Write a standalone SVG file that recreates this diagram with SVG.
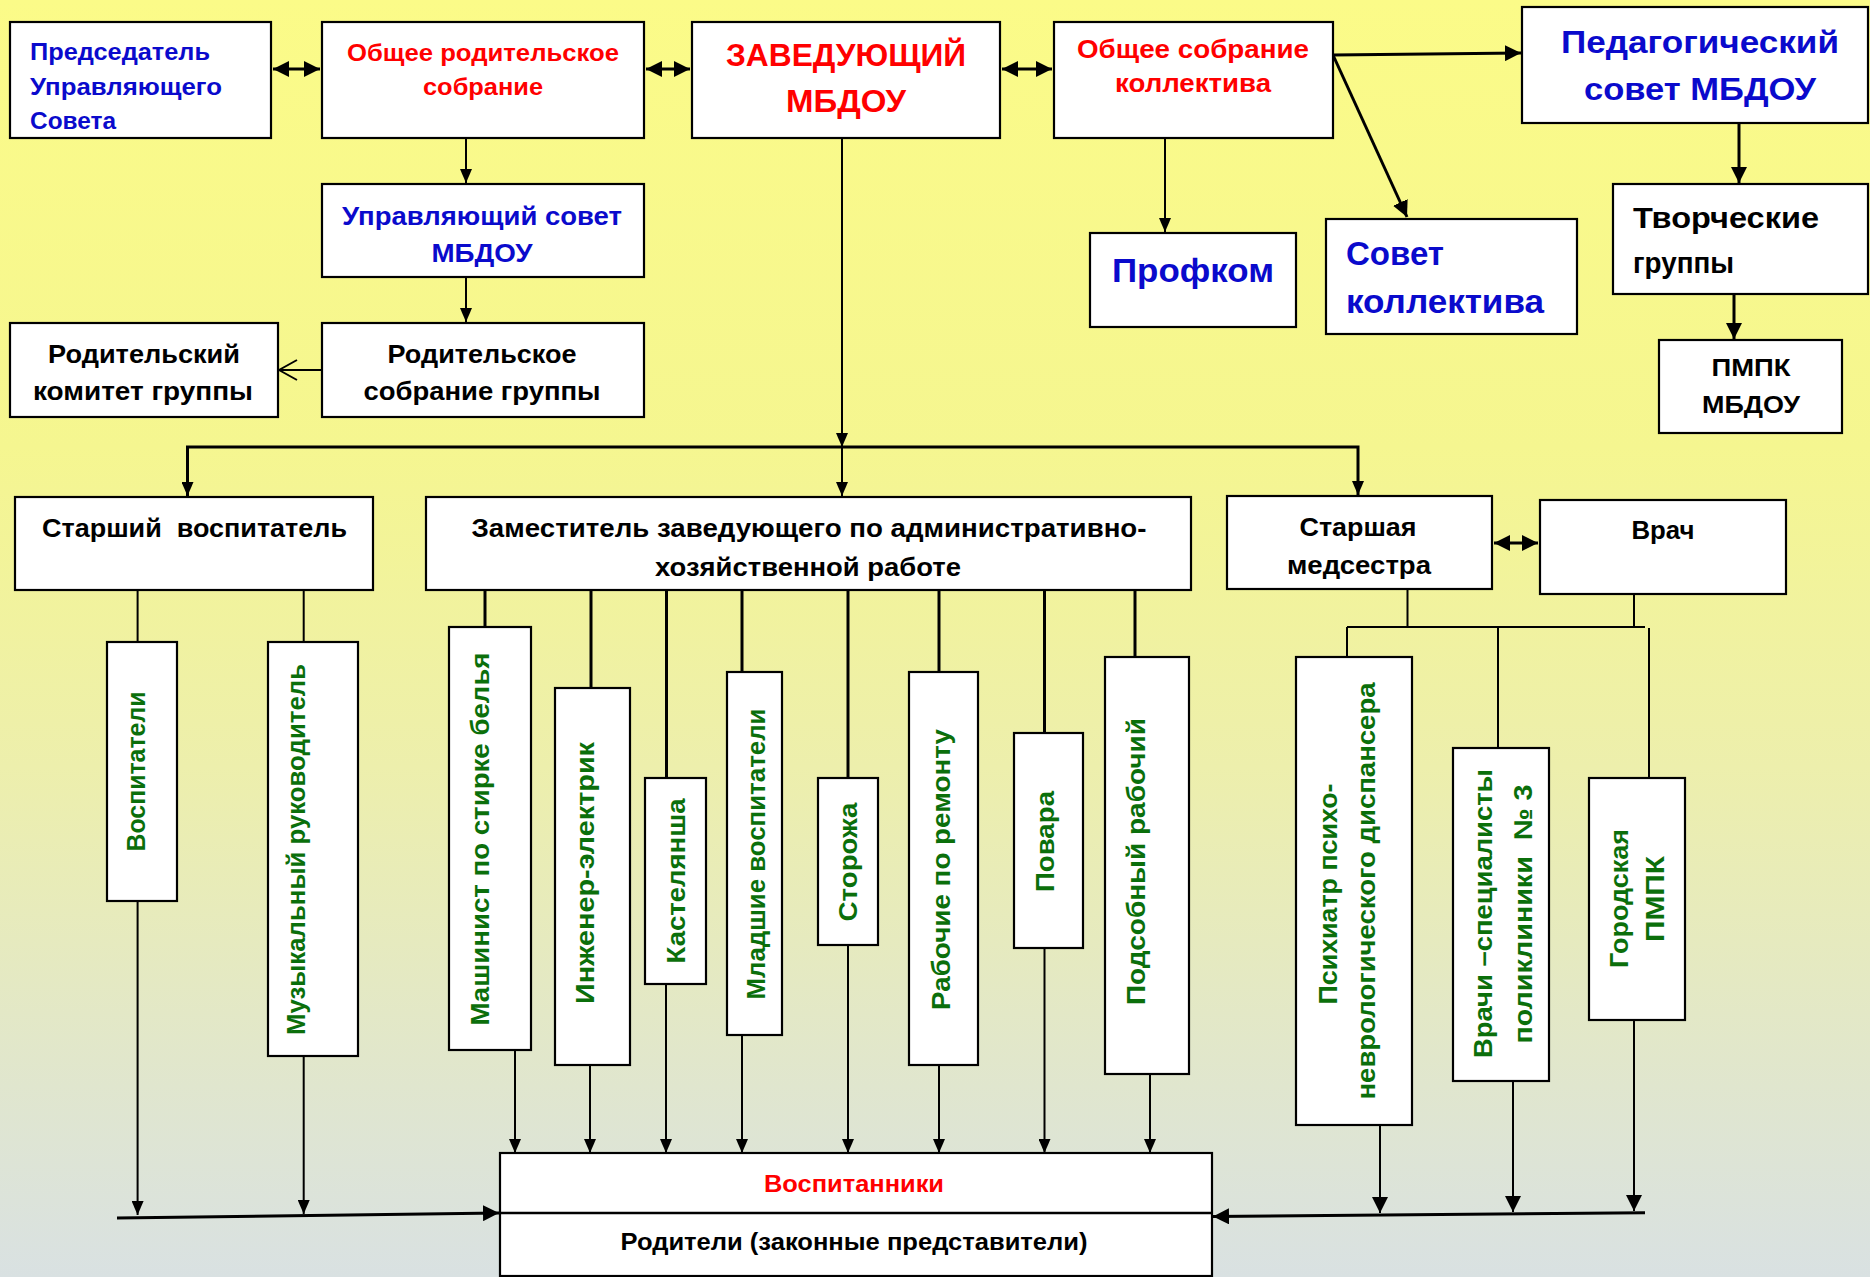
<svg xmlns="http://www.w3.org/2000/svg" width="1870" height="1277" viewBox="0 0 1870 1277">
<defs>
<linearGradient id="bg" x1="0" y1="0" x2="0" y2="1">
<stop offset="0" stop-color="#FBFB88"/>
<stop offset="0.35" stop-color="#F5F690"/>
<stop offset="0.6" stop-color="#EDEFAC"/>
<stop offset="0.85" stop-color="#E0E6CE"/>
<stop offset="1" stop-color="#D9E1E2"/>
</linearGradient>
<marker id="ah" markerUnits="userSpaceOnUse" viewBox="0 0 14 12" refX="14" refY="6" markerWidth="14" markerHeight="12" orient="auto-start-reverse">
<path d="M0,0 L14,6 L0,12 z" fill="#000"/>
</marker>
<marker id="ahb" markerUnits="userSpaceOnUse" viewBox="0 0 16 16" refX="16" refY="8" markerWidth="16" markerHeight="16" orient="auto-start-reverse">
<path d="M0,0 L16,8 L0,16 z" fill="#000"/>
</marker>
<marker id="ao" markerUnits="userSpaceOnUse" viewBox="0 0 20 22" refX="19" refY="11" markerWidth="20" markerHeight="22" orient="auto">
<path d="M1,1 L19,11 L1,21" fill="none" stroke="#000" stroke-width="2"/>
</marker>
<style>
.box{fill:#fff;stroke:#000;stroke-width:2.2}
.t{font-family:"Liberation Sans",Arial,sans-serif;font-weight:bold}
.c{text-anchor:middle}
.blue{fill:#0A0ACC}
.red{fill:#FF0000}
.blk{fill:#000}
.v{font-family:"Liberation Sans",Arial,sans-serif;font-weight:bold;fill:#0B6F0B;text-anchor:middle;dominant-baseline:central;font-size:26px}
.ln{stroke:#000;stroke-width:2;fill:none}
.lt{stroke:#000;stroke-width:3;fill:none}
</style>
</defs>
<rect x="0" y="0" width="1870" height="1277" fill="url(#bg)"/>

<g id="connectors">
<line class="lt" x1="273" y1="69" x2="320" y2="69" marker-start="url(#ahb)" marker-end="url(#ahb)"/>
<line class="lt" x1="646" y1="69" x2="690" y2="69" marker-start="url(#ahb)" marker-end="url(#ahb)"/>
<line class="lt" x1="1002" y1="69" x2="1052" y2="69" marker-start="url(#ahb)" marker-end="url(#ahb)"/>
<line class="lt" x1="1494" y1="543" x2="1538" y2="543" marker-start="url(#ahb)" marker-end="url(#ahb)"/>
<line class="lt" x1="1333" y1="55" x2="1521" y2="53" marker-end="url(#ahb)"/>
<line class="lt" x1="1333" y1="55" x2="1407" y2="217" marker-end="url(#ahb)"/>
<line class="ln" x1="1165" y1="138" x2="1165" y2="232" marker-end="url(#ah)"/>
<line class="ln" x1="466" y1="138" x2="466" y2="183" marker-end="url(#ah)"/>
<line class="ln" x1="466" y1="277" x2="466" y2="322" marker-end="url(#ah)"/>
<line class="ln" x1="322" y1="370" x2="279" y2="370" marker-end="url(#ao)"/>
<line class="lt" x1="1739" y1="123" x2="1739" y2="183" marker-end="url(#ahb)"/>
<line class="lt" x1="1734" y1="294" x2="1734" y2="339" marker-end="url(#ahb)"/>
<line class="ln" x1="842" y1="138" x2="842" y2="447" marker-end="url(#ah)"/>
<polyline class="lt" points="187.5,497 187.5,447 1358,447 1358,496" stroke-width="2.5"/>
<line class="ln" x1="187.5" y1="447" x2="187.5" y2="496" marker-end="url(#ah)"/>
<line class="ln" x1="842" y1="447" x2="842" y2="496" marker-end="url(#ah)"/>
<line class="ln" x1="1358" y1="447" x2="1358" y2="495" marker-end="url(#ah)"/>
<line class="ln" x1="137.6" y1="590" x2="137.6" y2="642"/>
<line class="ln" x1="303.7" y1="590" x2="303.7" y2="642"/>
<line class="lt" x1="485" y1="590" x2="485" y2="627"/>
<line class="lt" x1="591" y1="590" x2="591" y2="688"/>
<line class="lt" x1="666.5" y1="590" x2="666.5" y2="778"/>
<line class="lt" x1="742" y1="590" x2="742" y2="672"/>
<line class="lt" x1="848" y1="590" x2="848" y2="778"/>
<line class="lt" x1="939" y1="590" x2="939" y2="672"/>
<line class="lt" x1="1044.5" y1="590" x2="1044.5" y2="733"/>
<line class="lt" x1="1135" y1="590" x2="1135" y2="657"/>
<line class="ln" x1="1407.5" y1="589" x2="1407.5" y2="627"/>
<line class="ln" x1="1634" y1="594" x2="1634" y2="627"/>
<line class="ln" x1="1347" y1="627" x2="1645" y2="627"/>
<line class="ln" x1="1347" y1="627" x2="1347" y2="657"/>
<line class="ln" x1="1498" y1="627" x2="1498" y2="748"/>
<line class="ln" x1="1649" y1="628" x2="1649" y2="778"/>
<line class="ln" x1="137.6" y1="901" x2="137.6" y2="1215" marker-end="url(#ah)"/>
<line class="ln" x1="303.7" y1="1056" x2="303.7" y2="1214" marker-end="url(#ah)"/>
<line class="ln" x1="515" y1="1050" x2="515" y2="1153" marker-end="url(#ah)"/>
<line class="ln" x1="590" y1="1065" x2="590" y2="1153" marker-end="url(#ah)"/>
<line class="ln" x1="666" y1="984" x2="666" y2="1153" marker-end="url(#ah)"/>
<line class="ln" x1="742" y1="1035" x2="742" y2="1153" marker-end="url(#ah)"/>
<line class="ln" x1="848" y1="945" x2="848" y2="1153" marker-end="url(#ah)"/>
<line class="ln" x1="939" y1="1065" x2="939" y2="1153" marker-end="url(#ah)"/>
<line class="ln" x1="1044.5" y1="948" x2="1044.5" y2="1153" marker-end="url(#ah)"/>
<line class="ln" x1="1150" y1="1074" x2="1150" y2="1153" marker-end="url(#ah)"/>
<line class="lt" x1="117" y1="1218" x2="499" y2="1213" marker-end="url(#ahb)"/>
<line class="lt" x1="1645" y1="1212.7" x2="1213" y2="1216.5" marker-end="url(#ahb)"/>
<line class="ln" x1="1380" y1="1125" x2="1380" y2="1213" marker-end="url(#ahb)"/>
<line class="ln" x1="1513" y1="1081" x2="1513" y2="1212" marker-end="url(#ahb)"/>
<line class="ln" x1="1634" y1="1020" x2="1634" y2="1211" marker-end="url(#ahb)"/>
</g>

<g id="n-predsedatel">
<rect class="box" x="10" y="22" width="261" height="116"/>
<text class="t blue" font-size="24" x="30" y="60" textLength="180" lengthAdjust="spacingAndGlyphs">Председатель</text>
<text class="t blue" font-size="24" x="30" y="95" textLength="192" lengthAdjust="spacingAndGlyphs">Управляющего</text>
<text class="t blue" font-size="24" x="30" y="129" textLength="86" lengthAdjust="spacingAndGlyphs">Совета</text>
</g>
<g id="n-obshee-rod">
<rect class="box" x="322" y="22" width="322" height="116"/>
<text class="t red c" font-size="24" x="483" y="61" textLength="272" lengthAdjust="spacingAndGlyphs">Общее родительское</text>
<text class="t red c" font-size="24" x="483" y="95" textLength="120" lengthAdjust="spacingAndGlyphs">собрание</text>
</g>
<g id="n-zaveduyushiy">
<rect class="box" x="692" y="22" width="308" height="116"/>
<text class="t red c" font-size="32" x="846" y="66" textLength="240" lengthAdjust="spacingAndGlyphs">ЗАВЕДУЮЩИЙ</text>
<text class="t red c" font-size="32" x="846" y="112" textLength="120" lengthAdjust="spacingAndGlyphs">МБДОУ</text>
</g>
<g id="n-obshee-kol">
<rect class="box" x="1054" y="22" width="279" height="116"/>
<text class="t red c" font-size="26" x="1193" y="58" textLength="232" lengthAdjust="spacingAndGlyphs">Общее собрание</text>
<text class="t red c" font-size="26" x="1193" y="92" textLength="156" lengthAdjust="spacingAndGlyphs">коллектива</text>
</g>
<g id="n-pedsovet">
<rect class="box" x="1522" y="7" width="346" height="116"/>
<text class="t blue c" font-size="32" x="1700" y="53" textLength="278" lengthAdjust="spacingAndGlyphs">Педагогический</text>
<text class="t blue c" font-size="32" x="1700" y="100" textLength="232" lengthAdjust="spacingAndGlyphs">совет МБДОУ</text>
</g>
<g id="n-upr-sovet">
<rect class="box" x="322" y="184" width="322" height="93"/>
<text class="t blue c" font-size="26" x="482" y="225" textLength="280" lengthAdjust="spacingAndGlyphs">Управляющий совет</text>
<text class="t blue c" font-size="26" x="482" y="262" textLength="101" lengthAdjust="spacingAndGlyphs">МБДОУ</text>
</g>
<g id="n-profkom">
<rect class="box" x="1090" y="233" width="206" height="94"/>
<text class="t blue c" font-size="34" x="1193" y="282" textLength="162" lengthAdjust="spacingAndGlyphs">Профком</text>
</g>
<g id="n-sovet-kol">
<rect class="box" x="1326" y="219" width="251" height="115"/>
<text class="t blue" font-size="33" x="1346" y="265" textLength="98" lengthAdjust="spacingAndGlyphs">Совет</text>
<text class="t blue" font-size="33" x="1346" y="313" textLength="198" lengthAdjust="spacingAndGlyphs">коллектива</text>
</g>
<g id="n-tvorch">
<rect class="box" x="1613" y="184" width="255" height="110"/>
<text class="t blk" font-size="30" x="1633" y="228" textLength="186" lengthAdjust="spacingAndGlyphs">Творческие</text>
<text class="t blk" font-size="30" x="1633" y="273" textLength="101" lengthAdjust="spacingAndGlyphs">группы</text>
</g>
<g id="n-pmpk">
<rect class="box" x="1659" y="340" width="183" height="93"/>
<text class="t blk c" font-size="24" x="1751" y="376" textLength="79" lengthAdjust="spacingAndGlyphs">ПМПК</text>
<text class="t blk c" font-size="24" x="1751" y="413" textLength="98" lengthAdjust="spacingAndGlyphs">МБДОУ</text>
</g>
<g id="n-rod-komitet">
<rect class="box" x="10" y="323" width="268" height="94"/>
<text class="t blk c" font-size="26" x="144" y="363" textLength="192" lengthAdjust="spacingAndGlyphs">Родительский</text>
<text class="t blk c" font-size="26" x="143" y="400" textLength="220" lengthAdjust="spacingAndGlyphs">комитет группы</text>
</g>
<g id="n-rod-sobranie">
<rect class="box" x="322" y="323" width="322" height="94"/>
<text class="t blk c" font-size="26" x="482" y="363" textLength="189" lengthAdjust="spacingAndGlyphs">Родительское</text>
<text class="t blk c" font-size="26" x="482" y="400" textLength="237" lengthAdjust="spacingAndGlyphs">собрание группы</text>
</g>
<g id="n-starshiy-vosp">
<rect class="box" x="15" y="497" width="358" height="93"/>
<text class="t blk c" font-size="26" x="194.5" y="537" textLength="305" lengthAdjust="spacingAndGlyphs" xml:space="preserve">Старший  воспитатель</text>
</g>
<g id="n-zamestitel">
<rect class="box" x="426" y="497" width="765" height="93"/>
<text class="t blk c" font-size="26" x="809" y="537" textLength="675" lengthAdjust="spacingAndGlyphs">Заместитель заведующего по административно-</text>
<text class="t blk c" font-size="26" x="808" y="576" textLength="306" lengthAdjust="spacingAndGlyphs">хозяйственной работе</text>
</g>
<g id="n-medsestra">
<rect class="box" x="1227" y="496" width="265" height="93"/>
<text class="t blk c" font-size="26" x="1358" y="535.5" textLength="117" lengthAdjust="spacingAndGlyphs">Старшая</text>
<text class="t blk c" font-size="26" x="1359" y="574" textLength="144" lengthAdjust="spacingAndGlyphs">медсестра</text>
</g>
<g id="n-vrach">
<rect class="box" x="1540" y="500" width="246" height="94"/>
<text class="t blk c" font-size="26" x="1663" y="539" textLength="63" lengthAdjust="spacingAndGlyphs">Врач</text>
</g>

<g id="n-vospitateli">
<rect class="box" x="107" y="642" width="70" height="259"/>
<text class="v" transform="translate(136,771.5) rotate(-90)" textLength="160" lengthAdjust="spacingAndGlyphs">Воспитатели</text>
</g>
<g id="n-muz">
<rect class="box" x="268" y="642" width="90" height="414"/>
<text class="v" transform="translate(296,849.5) rotate(-90)" textLength="371" lengthAdjust="spacingAndGlyphs">Музыкальный руководитель</text>
</g>
<g id="n-mashinist">
<rect class="box" x="449" y="627" width="82" height="423"/>
<text class="v" transform="translate(480,839) rotate(-90)" textLength="373" lengthAdjust="spacingAndGlyphs">Машинист по стирке белья</text>
</g>
<g id="n-inzhener">
<rect class="box" x="555" y="688" width="75" height="377"/>
<text class="v" transform="translate(585,873) rotate(-90)" textLength="262" lengthAdjust="spacingAndGlyphs">Инженер-электрик</text>
</g>
<g id="n-kastelyansha">
<rect class="box" x="645" y="778" width="61" height="206"/>
<text class="v" transform="translate(676,881) rotate(-90)" textLength="165" lengthAdjust="spacingAndGlyphs">Кастелянша</text>
</g>
<g id="n-mladshie">
<rect class="box" x="727" y="672" width="55" height="363"/>
<text class="v" transform="translate(755.5,854) rotate(-90)" textLength="291" lengthAdjust="spacingAndGlyphs">Младшие воспитатели</text>
</g>
<g id="n-storozha">
<rect class="box" x="818" y="778" width="60" height="167"/>
<text class="v" transform="translate(848,862) rotate(-90)" textLength="119" lengthAdjust="spacingAndGlyphs">Сторожа</text>
</g>
<g id="n-rabochie">
<rect class="box" x="909" y="672" width="69" height="393"/>
<text class="v" transform="translate(941,869.5) rotate(-90)" textLength="281" lengthAdjust="spacingAndGlyphs">Рабочие по ремонту</text>
</g>
<g id="n-povara">
<rect class="box" x="1014" y="733" width="69" height="215"/>
<text class="v" transform="translate(1045,841.5) rotate(-90)" textLength="101" lengthAdjust="spacingAndGlyphs">Повара</text>
</g>
<g id="n-podsobny">
<rect class="box" x="1105" y="657" width="84" height="417"/>
<text class="v" transform="translate(1136,861.5) rotate(-90)" textLength="287" lengthAdjust="spacingAndGlyphs">Подсобный рабочий</text>
</g>
<g id="n-psihiatr">
<rect class="box" x="1296" y="657" width="116" height="468"/>
<text class="v" transform="translate(1328,894) rotate(-90)" textLength="221" lengthAdjust="spacingAndGlyphs">Психиатр психо-</text>
<text class="v" transform="translate(1366,891) rotate(-90)" textLength="417" lengthAdjust="spacingAndGlyphs">неврологического диспансера</text>
</g>
<g id="n-vrachi">
<rect class="box" x="1453" y="748" width="96" height="333"/>
<text class="v" transform="translate(1483,913.5) rotate(-90)" textLength="289" lengthAdjust="spacingAndGlyphs">Врачи –специалисты</text>
<text class="v" transform="translate(1523,914) rotate(-90)" textLength="259" lengthAdjust="spacingAndGlyphs" xml:space="preserve">поликлиники  № 3</text>
</g>
<g id="n-gorodskaya">
<rect class="box" x="1589" y="778" width="96" height="242"/>
<text class="v" transform="translate(1619,898.5) rotate(-90)" textLength="139" lengthAdjust="spacingAndGlyphs">Городская</text>
<text class="v" transform="translate(1655,899) rotate(-90)" textLength="86" lengthAdjust="spacingAndGlyphs">ПМПК</text>
</g>

<g id="n-vospitanniki">
<rect class="box" x="500" y="1153" width="712" height="123"/>
<line x1="500" y1="1213" x2="1212" y2="1213" stroke="#000" stroke-width="2.5"/>
<text class="t red c" font-size="24" x="854" y="1192" textLength="180" lengthAdjust="spacingAndGlyphs">Воспитанники</text>
<text class="t blk c" font-size="24" x="854" y="1250" textLength="467" lengthAdjust="spacingAndGlyphs">Родители (законные представители)</text>
</g>
</svg>
